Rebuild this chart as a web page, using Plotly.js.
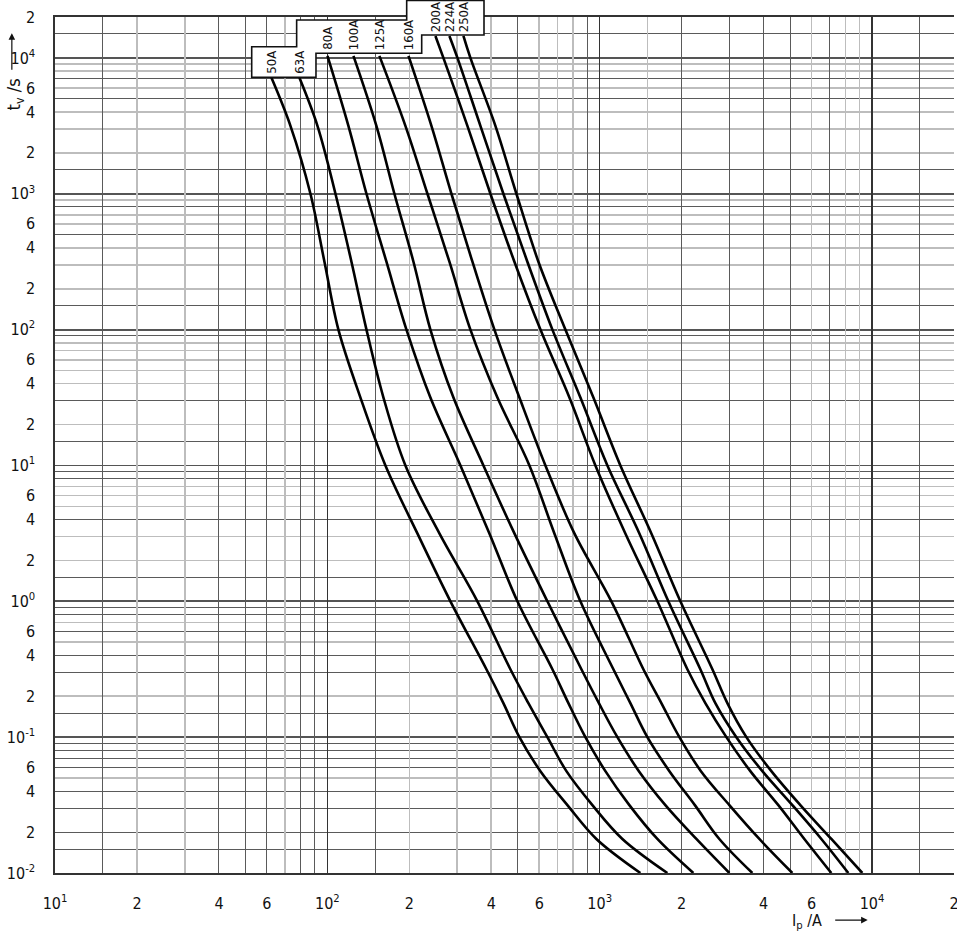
<!DOCTYPE html>
<html><head><meta charset="utf-8">
<script src="https://cdn.plot.ly/plotly-3.0.1.min.js"></script>
<style>html,body{margin:0;padding:0;background:#fff;}#chart{width:957px;height:933px;}</style>
</head><body><div id="chart"></div>
<script>
// ---- data (pre-arcing time t in s, prospective current I in A) ----
const ratings = ['50A','63A','80A','100A','125A','160A','200A','224A','250A'];
const tLow  = [7130, 3162, 1000, 316, 100, 31.6, 10, 3.16, 1, 0.316, 0.178, 0.1, 0.0562, 0.0316, 0.0178, 0.01];
const tMid  = [10350, 3162, 1000, 316, 100, 31.6, 10, 3.16, 1, 0.316, 0.178, 0.1, 0.0562, 0.0316, 0.0178, 0.01];
const tHigh = [14500, 10000, 3162, 1000, 316, 100, 31.6, 10, 3.16, 1, 0.316, 0.178, 0.1, 0.0562, 0.0316, 0.0178, 0.01];
const i50  = [62.35, 73.2, 86.68, 97.58, 109.8, 132.3, 163.4, 214.1, 283.1, 383.8, 443.0, 507.3, 605.9, 761.2, 972.5, 1410.7];
const i63  = [78.99, 91.98, 107.1, 122.6, 139.2, 160.7, 193.5, 257.9, 355.6, 470.0, 547.3, 642.7, 754.8, 940.2, 1211.6, 1772.3];
const i80  = [100.1, 119.5, 139.2, 164.8, 195.2, 239.0, 308.1, 393.6, 498.8, 670.5, 767.6, 886.2, 1049.4, 1285.2, 1628.7, 2208.0];
const i100 = [124.7, 151.4, 176.3, 207.1, 239.0, 290.4, 374.2, 486.3, 642.7, 856.8, 993.3, 1161.4, 1393.0, 1742.7, 2264.8, 2993.4];
const i125 = [155.3, 193.5, 233.1, 280.7, 335.2, 421.2, 552.0, 681.9, 849.6, 1122.8, 1296.2, 1496.6, 1803.0, 2236.3, 2750.6, 3636.3];
const i160 = [198.6, 241.1, 285.5, 341.0, 410.6, 507.3, 632.0, 807.6, 1104.0, 1446.9, 1684.6, 1962.2, 2354.0, 2993.4, 3857.7, 5098.9];
const i200 = [249.4, 266.8, 326.8, 397.0, 486.3, 605.9, 774.2, 964.4, 1242.4, 1628.7, 2098.8, 2443.4, 2918.4, 3574.5, 4529.4, 5642.6, 7089.3];
const i224 = [280.7, 300.4, 364.8, 443.0, 542.6, 670.5, 849.6, 1067.3, 1398.8, 1787.5, 2342.2, 2659.0, 3175.8, 3956.8, 5098.9, 6514.8, 8185.1];
const i250 = [316.0, 335.2, 414.1, 494.6, 595.7, 748.2, 948.2, 1191.2, 1548.0, 1978.7, 2593.2, 2943.4, 3456.4, 4269.4, 5455.2, 7089.3, 9213.4];
const currents = [i50, i63, i80, i100, i125, i160, i200, i224, i250];
const times = [tLow, tLow, tMid, tMid, tMid, tMid, tHigh, tHigh, tHigh];

// tick labels
const xTickVals = [10, 20, 40, 60, 100, 200, 400, 600, 1000, 2000, 4000, 6000, 10000, 20000];
const xTickText = ['10<sup>1</sup>','2','4','6','10<sup>2</sup>','2','4','6','10<sup>3</sup>','2','4','6','10<sup>4</sup>','2'];
const yTickVals = [0.01,0.02,0.04,0.06,0.1,0.2,0.4,0.6,1,2,4,6,10,20,40,60,100,200,400,600,1000,2000,4000,6000,10000,20000];
const yTickText = ['10<sup>-2</sup>','2','4','6','10<sup>-1</sup>','2','4','6','10<sup>0</sup>','2','4','6','10<sup>1</sup>','2','4','6','10<sup>2</sup>','2','4','6','10<sup>3</sup>','2','4','6','10<sup>4</sup>','2'];

// grid lines (dark / light as in the drawing)
const xGridDecade = [100, 1000, 10000];
const xGridDark = [15, 40, 50, 60, 80, 90, 150, 500, 900, 2000, 3000, 4000, 5000, 7000, 15000];
const xGridLight = [20, 30, 70, 200, 300, 400, 600, 700, 800, 1500, 6000, 8000, 9000];
const yGridDecade = [0.1, 1, 10, 100, 1000, 10000];
const yGridDark = [0.015,0.02,0.03,0.04,0.06,0.07,0.08,0.09, 0.15,0.3,0.4,0.6,0.8,0.9, 1.5,4,8,9, 15,30,90, 150,500,800, 1500,5000,7000, 15000];
const yGridLight = [0.05, 0.2,0.5,0.7, 2,3,5,6,7, 20,40,50,60,70,80, 200,300,400,600,700,900, 2000,3000,4000,6000,8000,9000];

// ---- traces ----
const traces = currents.map((cur, k) => ({
  type: 'scatter', mode: 'lines', x: cur, y: times[k], name: ratings[k],
  line: {color: '#000', width: 2.6, shape: 'spline', smoothing: 1.0},
  hoverinfo: 'skip', xaxis: 'x', yaxis: 'y'
}));

const XR = [1, Math.log10(20000)], YR = [-2, Math.log10(20000)];
const FONT = 'DejaVu Sans Condensed, Liberation Sans Narrow, sans-serif';

function gridAx(vals, color, width, base, extra) {
  return Object.assign({type: 'log', range: base, tickmode: 'array', tickvals: vals,
    showticklabels: false, ticks: '', showline: false, showgrid: true,
    gridcolor: color, gridwidth: width, zeroline: false, fixedrange: true}, extra);
}

const layout = {
  width: 957, height: 933,
  margin: {l: 55, r: 3, t: 17, b: 60, pad: 0},
  paper_bgcolor: '#fff', plot_bgcolor: '#fff',
  showlegend: false, hovermode: false,
  font: {family: FONT, color: '#111', size: 16},
  xaxis: {type: 'log', range: XR, tickmode: 'array', tickvals: xTickVals, ticktext: xTickText,
    showgrid: false, ticks: '', ticklabelstandoff: 15, ticklabeloverflow: 'allow', showline: true, linecolor: '#333', linewidth: 1.6,
    mirror: true, tickfont: {family: FONT, size: 16, color: '#111'}, automargin: false, fixedrange: true},
  yaxis: {type: 'log', range: YR, tickmode: 'array', tickvals: yTickVals, ticktext: yTickText,
    showgrid: false, ticks: '', ticklabelstandoff: 15, ticklabeloverflow: 'allow', showline: true, linecolor: '#333', linewidth: 1.6,
    tickfont: {family: FONT, size: 16, color: '#111'}, automargin: false, fixedrange: true},
  xaxis2: gridAx(xGridDark, '#5a5a5a', 1, XR, {overlaying: 'x', anchor: 'y'}),
  xaxis3: gridAx(xGridLight, '#bdbdbd', 1.6, XR, {overlaying: 'x', anchor: 'y'}),
  xaxis4: gridAx(xGridDecade, '#333', 1.6, XR, {overlaying: 'x', anchor: 'y'}),
  yaxis2: gridAx(yGridDark, '#5a5a5a', 1, YR, {overlaying: 'y', anchor: 'x'}),
  yaxis3: gridAx(yGridLight, '#bdbdbd', 1.6, YR, {overlaying: 'y', anchor: 'x'}),
  yaxis4: gridAx(yGridDecade, '#555', 1.8, YR, {overlaying: 'y', anchor: 'x'}),
  shapes: [{
    type: 'path', xref: 'paper', yref: 'paper', layer: 'above',
    path: 'M0.2188,0.9653 L0.2688,0.9653 L0.2688,0.9965 L0.3912,0.9965 L0.3912,1.0193 L0.4772,1.0193 L0.4772,0.9790 L0.4079,0.9790 L0.4079,0.9576 L0.2903,0.9576 L0.2903,0.9295 L0.2188,0.9295 Z',
    fillcolor: '#fff', line: {color: '#111', width: 1.6}
  }],
  annotations: []
};

// empty traces so overlay grid axes are drawn
['x2','x3','x4'].forEach(a => traces.push({type:'scatter', x: [], y: [], xaxis: a, yaxis: 'y', hoverinfo:'skip'}));
['y2','y3','y4'].forEach(a => traces.push({type:'scatter', x: [], y: [], xaxis: 'x', yaxis: a, hoverinfo:'skip'}));

// rating labels inside the stepped box
const tierBottom = [0.9325, 0.9606, 0.9815];
const tierOf = [0, 0, 1, 1, 1, 1, 2, 2, 2];
ratings.forEach((r, k) => {
  layout.annotations.push({text: r, xref: 'x', yref: 'paper', x: Math.log10(currents[k][0]),
    y: tierBottom[tierOf[k]], textangle: -90, xanchor: 'center', yanchor: 'bottom', borderpad: 0,
    showarrow: false, font: {family: FONT, size: 13, color: '#111'}});
});

// axis titles with arrows
layout.annotations.push({text: 't<sub>v</sub> /s', xref: 'paper', yref: 'paper', x: -0.044, y: 0.91,
  textangle: -90, showarrow: false, xanchor: 'center', yanchor: 'middle', font: {family: FONT, size: 18, color: '#111'}});
layout.annotations.push({text: '', xref: 'paper', yref: 'paper', x: -0.048, y: 0.981, ax: 0, ay: 38,
  showarrow: true, arrowhead: 2, arrowsize: 1.1, arrowwidth: 1.2, arrowcolor: '#111'});
layout.annotations.push({text: 'I<sub>p</sub> /A', xref: 'paper', yref: 'paper', x: 0.836, y: -0.057,
  showarrow: false, xanchor: 'center', yanchor: 'middle', font: {family: FONT, size: 16, color: '#111'}});
layout.annotations.push({text: '', xref: 'paper', yref: 'paper', x: 0.904, y: -0.055, ax: -34, ay: 0,
  showarrow: true, arrowhead: 2, arrowsize: 1.1, arrowwidth: 1.2, arrowcolor: '#111'});

Plotly.newPlot('chart', traces, layout, {staticPlot: true, displayModeBar: false});
</script></body></html>
